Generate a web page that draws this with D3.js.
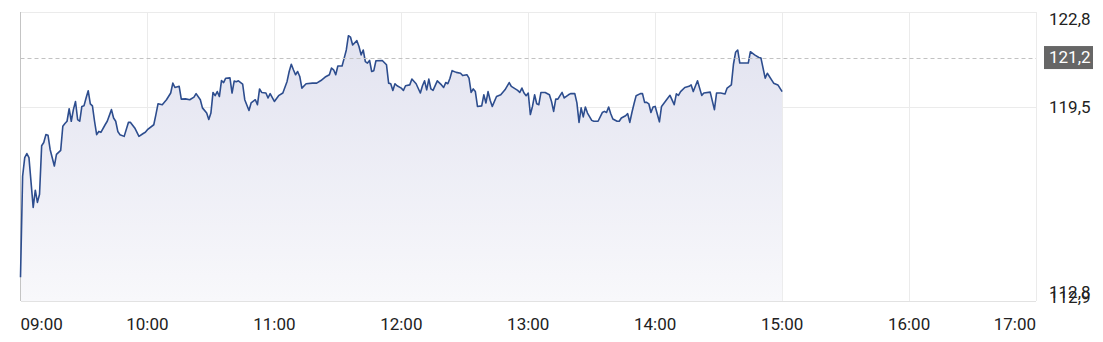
<!DOCTYPE html>
<html lang="en">
<head>
    <meta charset="UTF-8">
    <title>Intraday price</title>
    <script src="https://d3js.org/d3.v7.min.js"></script>
    <style>
        body {
            margin: 0;
            background: #fff;
            font-family: Roboto, "Noto Sans", Arial, sans-serif;
        }
        svg text { fill: #222; }
    </style>
</head>
<body>
    <div id="chart"></div>

    <script>
        // minutes after 09:00
        const minutes = [
            0, 1, 2, 3, 4, 6, 7, 8, 9, 10, 11, 12, 13, 14, 16, 17, 19, 20, 21, 22,
            23, 24, 25, 26, 27, 28, 29, 30, 31, 32, 33, 34, 35, 36, 37, 38, 40, 41, 43, 44,
            45, 46, 47, 49, 51, 52, 54, 56, 58, 59, 60, 63, 64, 65, 67, 69, 71, 72, 73, 75,
            76, 78, 80, 82, 83, 85, 86, 88, 89, 90, 91, 92, 93, 94, 95, 96, 97, 99, 100, 101,
            102, 103, 105, 106, 108, 109, 111, 112, 113, 114, 116, 117, 118, 120, 122, 124, 126, 127, 128, 129,
            130, 131, 132, 133, 135, 138, 140, 142, 144, 146, 147, 148, 149, 150, 152, 153, 154, 155, 156, 157,
            159, 160, 161, 162, 163, 164, 165, 166, 167, 168, 171, 173, 174, 175, 176, 177, 178, 180, 181, 182,
            184, 185, 187, 189, 190, 191, 192, 193, 194, 195, 197, 199, 200, 201, 202, 203, 204, 206, 208, 209,
            211, 212, 213, 214, 215, 216, 218, 219, 220, 221, 222, 223, 225, 227, 229, 231, 232, 235, 236, 237,
            238, 239, 240, 241, 242, 243, 244, 245, 246, 248, 250, 251, 252, 253, 254, 255, 256, 257, 259, 260,
            262, 263, 264, 265, 266, 267, 268, 270, 271, 273, 275, 276, 277, 278, 279, 280, 282, 283, 284, 286,
            287, 288, 289, 290, 291, 293, 294, 295, 296, 297, 298, 299, 300, 302, 303, 306, 307, 309, 310, 311,
            312, 314, 316, 317, 318, 320, 322, 323, 326, 328, 329, 331, 333, 334, 336, 337, 338, 339, 340, 342,
            344, 345, 347, 349, 350, 352, 353, 356, 358, 360
        ];
        const prices = [
            113.65, 117.12, 117.76, 117.90, 117.76, 116.05, 116.64, 116.22, 116.50, 118.17, 118.28, 118.55, 118.53, 118.04, 117.47, 117.87, 118.01, 118.84, 118.93, 119.01,
            119.44, 119.01, 119.41, 119.69, 119.07, 119.01, 119.52, 119.54, 119.81, 120.06, 119.61, 119.54, 119.01, 118.55, 118.66, 118.63, 118.89, 119.01, 119.41, 119.12,
            119.01, 118.66, 118.55, 118.49, 118.97, 118.97, 118.78, 118.49, 118.59, 118.63, 118.72, 118.89, 119.24, 119.61, 119.58, 119.75, 119.98, 120.32, 120.17, 120.21,
            119.77, 119.78, 119.75, 119.84, 119.96, 119.75, 119.47, 119.29, 119.07, 119.29, 120.00, 119.89, 120.03, 119.86, 120.41, 120.34, 120.49, 120.50, 119.98, 120.39,
            120.37, 120.40, 120.29, 119.75, 119.38, 119.64, 119.75, 119.58, 120.12, 120.00, 119.98, 119.81, 119.96, 119.69, 119.89, 119.98, 120.38, 120.72, 120.97, 120.78,
            120.61, 120.72, 120.55, 120.15, 120.30, 120.32, 120.32, 120.41, 120.53, 120.61, 120.84, 120.78, 120.61, 120.91, 120.91, 121.18, 121.46, 121.95, 121.90, 121.63,
            121.78, 121.58, 121.29, 121.46, 121.06, 121.01, 121.10, 120.72, 120.75, 121.09, 121.10, 120.95, 120.32, 120.30, 120.07, 120.30, 120.23, 120.15, 120.07, 120.23,
            120.26, 120.46, 120.30, 119.98, 120.23, 120.40, 120.09, 120.46, 120.12, 120.07, 120.40, 120.26, 120.17, 120.34, 120.30, 120.49, 120.75, 120.69, 120.66, 120.58,
            120.61, 120.49, 120.00, 120.12, 120.03, 119.52, 119.54, 119.92, 119.64, 120.03, 119.73, 119.52, 119.86, 119.92, 120.09, 120.34, 120.21, 120.07, 120.00, 120.15,
            119.98, 119.89, 119.98, 119.24, 119.52, 119.92, 119.61, 119.58, 120.00, 120.00, 119.92, 119.69, 119.35, 119.77, 119.77, 119.89, 120.00, 119.81, 119.92, 119.96,
            119.96, 119.64, 118.97, 119.47, 119.16, 119.50, 119.29, 119.04, 119.01, 119.01, 119.31, 119.35, 119.31, 119.50, 119.27, 119.09, 119.01, 119.01, 119.12, 119.20,
            119.27, 118.97, 119.31, 119.61, 119.89, 119.96, 119.96, 119.66, 119.66, 119.61, 119.31, 119.50, 119.52, 118.99, 119.52, 119.81, 119.90, 119.58, 119.95, 119.90,
            120.03, 120.17, 120.21, 120.26, 120.03, 120.40, 119.90, 119.98, 120.01, 119.41, 119.98, 119.98, 119.95, 120.15, 120.26, 120.97, 121.38, 121.46, 121.01, 121.01,
            121.01, 121.40, 121.29, 121.20, 121.18, 120.49, 120.66, 120.32, 120.26, 120.03
        ];
        const hourTicks = ["09:00", "10:00", "11:00", "12:00", "13:00", "14:00", "15:00", "16:00", "17:00"];
        const priceTicks = [122.8, 119.5];
        const lowLabels = [112.8, 112.9];
        const refPrice = 121.2;
        const priceDomain = [112.9, 122.8];

        const width = 1103, height = 342;
        const plotLeft = 20.5, plotRight = 1036, plotTop = 11, plotBottom = 299;

        const parseTime = d3.timeParse("%H:%M");
        const base = parseTime("09:00");
        const data = minutes.map((m, i) => ({ t: d3.timeMinute.offset(base, m), v: prices[i] }));

        const x = d3.scaleTime()
            .domain([parseTime(hourTicks[0]), parseTime(hourTicks[hourTicks.length - 1])])
            .range([plotLeft, plotRight]);
        const y = d3.scaleLinear().domain(priceDomain).range([plotBottom, plotTop]);
        const fmt = v => d3.format(".1f")(v).replace(".", ",");

        const svg = d3.select("#chart").append("svg")
            .attr("width", width)
            .attr("height", height);

        const grad = svg.append("defs").append("linearGradient")
            .attr("id", "fill")
            .attr("gradientUnits", "userSpaceOnUse")
            .attr("x1", 0).attr("x2", 0)
            .attr("y1", y(122)).attr("y2", 301);
        grad.append("stop").attr("offset", 0).attr("stop-color", "#e2e3f0");
        grad.append("stop").attr("offset", 1).attr("stop-color", "#f8f8fb");

        // frame + grid
        const grid = svg.append("g").attr("stroke", "#ebebeb").attr("shape-rendering", "crispEdges");
        grid.selectAll("line.v")
            .data(hourTicks.slice(1))
            .join("line")
            .attr("x1", d => Math.round(x(parseTime(d))) + 0.5)
            .attr("x2", d => Math.round(x(parseTime(d))) + 0.5)
            .attr("y1", plotTop + 1).attr("y2", 301);
        grid.append("line")
            .attr("x1", plotLeft).attr("x2", plotRight)
            .attr("y1", plotTop + 1).attr("y2", plotTop + 1);
        grid.append("line")
            .attr("x1", plotLeft).attr("x2", plotRight)
            .attr("y1", Math.round(y(priceTicks[1])) + 0.5)
            .attr("y2", Math.round(y(priceTicks[1])) + 0.5);
        grid.append("line")
            .attr("stroke", "#e2e2e2")
            .attr("x1", plotLeft).attr("x2", plotRight)
            .attr("y1", 301.5).attr("y2", 301.5);

        // area + line
        const area = d3.area()
            .x(d => x(d.t))
            .y0(301)
            .y1(d => y(d.v));
        const line = d3.line()
            .x(d => x(d.t))
            .y(d => y(d.v));

        svg.append("path")
            .datum(data)
            .attr("d", area)
            .attr("fill", "url(#fill)");

        svg.append("line")
            .attr("x1", plotLeft).attr("x2", plotLeft)
            .attr("y1", plotTop + 1).attr("y2", 301)
            .attr("stroke", "#c4c4c4");

        svg.append("path")
            .datum(data)
            .attr("d", line)
            .attr("fill", "none")
            .attr("stroke", "#2d4d8e")
            .attr("stroke-width", 1.6)
            .attr("stroke-linejoin", "round");

        // reference price
        svg.append("line")
            .attr("x1", plotLeft).attr("x2", plotRight)
            .attr("y1", Math.round(y(refPrice)) + 0.5)
            .attr("y2", Math.round(y(refPrice)) + 0.5)
            .attr("stroke", "#c2c2c2")
            .attr("stroke-dasharray", "4,3");

        svg.append("rect")
            .attr("x", 1044).attr("y", y(refPrice) - 11.5)
            .attr("width", 49).attr("height", 23)
            .attr("fill", "#666");
        svg.append("text")
            .attr("x", 1049).attr("y", y(refPrice))
            .attr("dy", "0.35em")
            .attr("font-size", 17)
            .style("fill", "#fff")
            .text(fmt(refPrice));

        // y labels
        svg.append("text")
            .attr("x", 1049).attr("y", y(priceTicks[0]) + 14)
            .attr("font-size", 17)
            .text(fmt(priceTicks[0]));
        svg.append("text")
            .attr("x", 1049).attr("y", y(priceTicks[1]))
            .attr("dy", "0.35em")
            .attr("font-size", 17)
            .text(fmt(priceTicks[1]));
        svg.selectAll("text.low")
            .data(lowLabels)
            .join("text")
            .attr("class", "low")
            .attr("x", 1049)
            .attr("y", (d, i) => 298 + i * 5)
            .attr("font-size", 17)
            .text(fmt);

        // x labels
        svg.selectAll("text.hour")
            .data(hourTicks)
            .join("text")
            .attr("class", "hour")
            .attr("x", d => x(parseTime(d)))
            .attr("y", 330)
            .attr("font-size", 17)
            .attr("text-anchor", (d, i) => i === 0 ? "start" : i === hourTicks.length - 1 ? "end" : "middle")
            .text(d => d);
    </script>
</body>
</html>
